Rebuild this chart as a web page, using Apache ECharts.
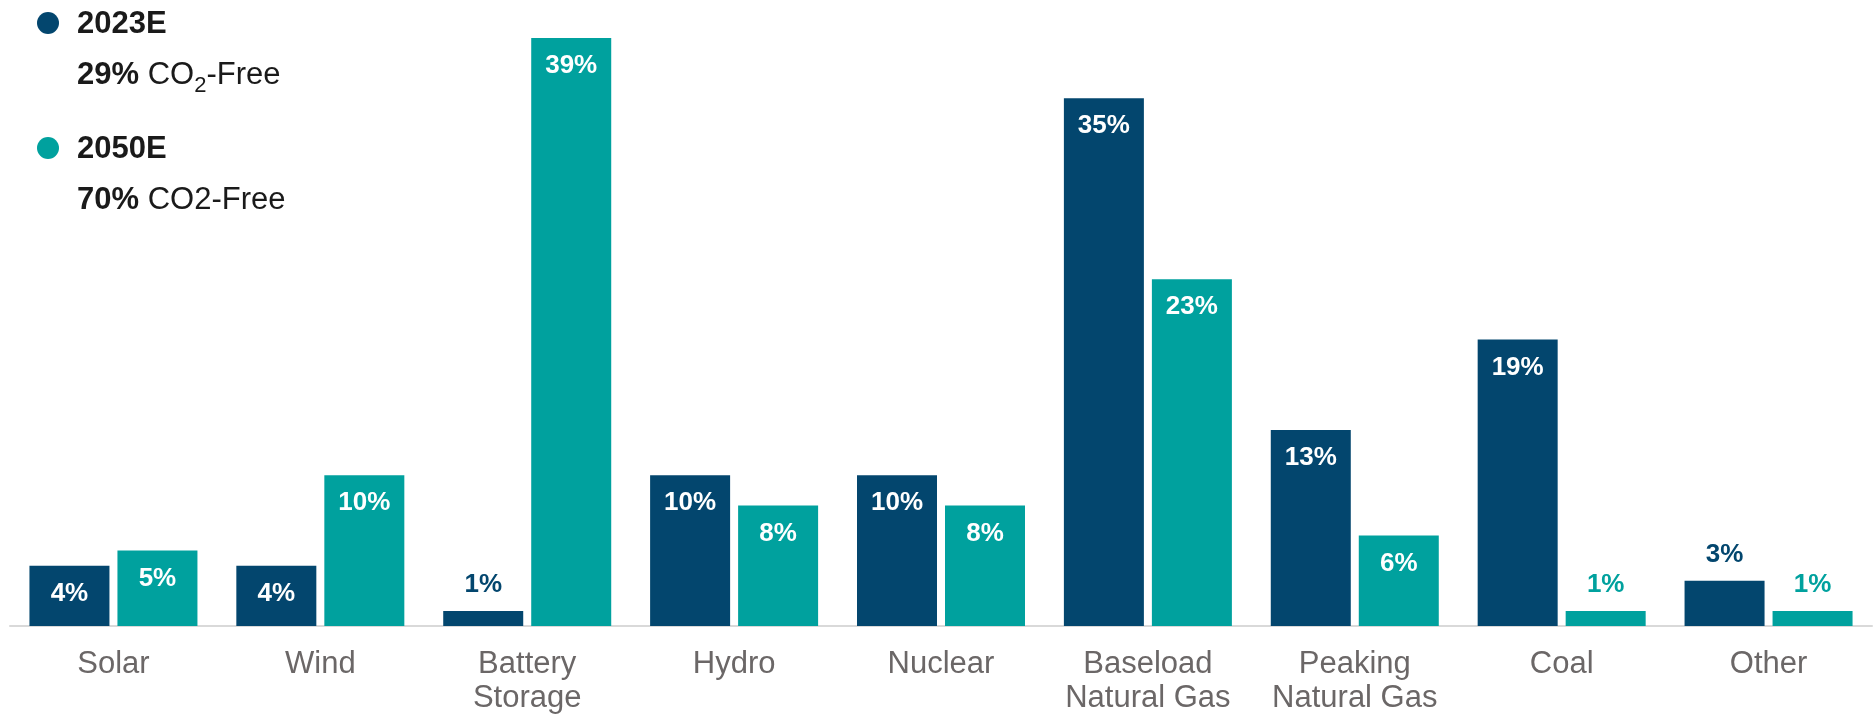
<!DOCTYPE html>
<html>
<head>
<meta charset="utf-8">
<script src="https://cdn.jsdelivr.net/npm/echarts@6/dist/echarts.min.js"></script>
<style>
  html, body { margin: 0; padding: 0; background: #ffffff; }
  #chart { width: 1875px; height: 720px; }
</style>
</head>
<body>
<div id="chart"></div>
<script>
// Generation mix by source, share of total (%)
const categories = ['Solar', 'Wind', 'Battery\nStorage', 'Hydro', 'Nuclear',
  'Baseload\nNatural Gas', 'Peaking\nNatural Gas', 'Coal', 'Other'];
const share2023 = [4, 4, 1, 10, 10, 35, 13, 19, 3];
const share2050 = [5, 10, 39, 8, 8, 23, 6, 1, 1];
const seriesNames = ['2023E', '2050E'];
const co2FreeShare = [29, 70];

const NAVY = '#03466e';
const TEAL = '#00a19e';
const FONT = '"Liberation Sans", Arial, Helvetica, sans-serif';

// Short bars carry their label above in the series colour; taller ones inside, in white
function withLabels(values, color) {
  return values.map(v => ({
    value: v,
    label: v < 4
      ? { position: 'top', distance: 13, color: color }
      : { position: 'insideTop', distance: 15, color: '#ffffff' }
  }));
}

function barSeries(name, values, color) {
  return {
    name: name,
    type: 'bar',
    barWidth: 80,
    barGap: '10%',
    itemStyle: { color: color },
    label: {
      show: true,
      formatter: '{c}%',
      fontFamily: FONT,
      fontSize: 26,
      fontWeight: 'bold'
    },
    data: withLabels(values, color)
  };
}

function legendBlock(y, color, title, richText) {
  return [
    { type: 'circle', shape: { cx: 48, cy: y, r: 11 }, style: { fill: color } },
    {
      type: 'text', x: 77, y: y + 1,
      style: {
        text: title, fontFamily: FONT, fontSize: 31, fontWeight: 'bold',
        fill: '#1a1a1a', verticalAlign: 'middle'
      }
    },
    {
      type: 'text', x: 77, y: y + 30,
      style: {
        text: richText,
        fontFamily: FONT,
        fill: '#1a1a1a',
        rich: {
          b: { fontFamily: FONT, fontSize: 31, fontWeight: 'bold', lineHeight: 44, color: '#1a1a1a' },
          t: { fontFamily: FONT, fontSize: 31, lineHeight: 44, color: '#1a1a1a' },
          s: { fontFamily: FONT, fontSize: 22, lineHeight: 22, verticalAlign: 'bottom', color: '#1a1a1a' }
        }
      }
    }
  ];
}

const chart = echarts.init(document.getElementById('chart'), null, { renderer: 'canvas' });

chart.setOption({
  backgroundColor: '#ffffff',
  animation: false,
  grid: { left: 10, right: 3, top: 38, bottom: 94, containLabel: false },
  xAxis: {
    type: 'category',
    data: categories,
    axisLine: { show: true, lineStyle: { color: '#d9d9d9', width: 2 } },
    axisTick: { show: false },
    axisLabel: {
      interval: 0,
      margin: 21,
      fontFamily: FONT,
      fontSize: 31,
      lineHeight: 34,
      color: '#6b6767'
    }
  },
  yAxis: {
    type: 'value',
    min: 0,
    max: 39,
    show: false
  },
  series: [
    barSeries(seriesNames[0], share2023, NAVY),
    barSeries(seriesNames[1], share2050, TEAL)
  ],
  graphic: [
    ...legendBlock(23, NAVY, seriesNames[0], '{b|' + co2FreeShare[0] + '% }{t|CO}{s|2}{t|-Free}'),
    ...legendBlock(148, TEAL, seriesNames[1], '{b|' + co2FreeShare[1] + '% }{t|CO2-Free}')
  ]
});
</script>
</body>
</html>
